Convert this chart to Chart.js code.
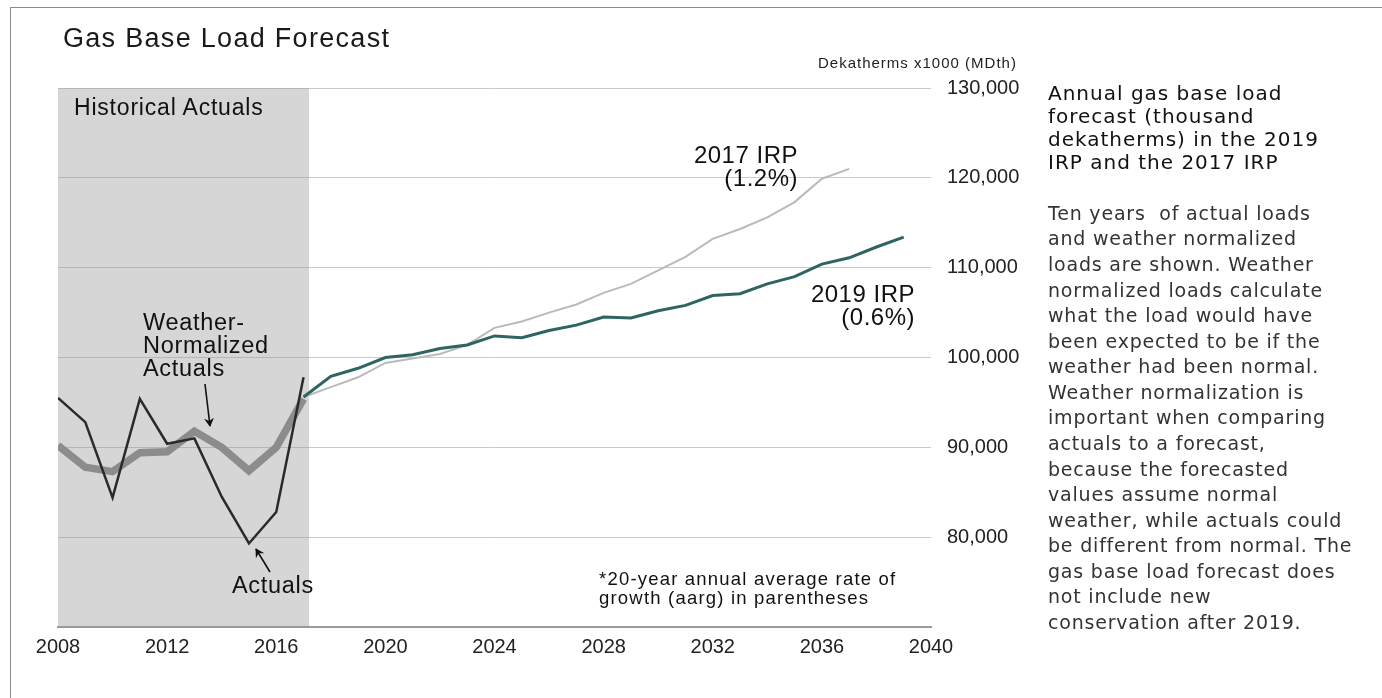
<!DOCTYPE html>
<html>
<head>
<meta charset="utf-8">
<script src="https://cdn.jsdelivr.net/npm/chart.js@4"></script>
<style>
  html, body { margin: 0; padding: 0; background: #fff; }
  body { width: 1382px; height: 698px; position: relative; overflow: hidden; font-family: "Liberation Sans", Arial, sans-serif; color: #111; }
  #frame { position: absolute; left: 10px; top: 7px; width: 1400px; height: 720px; border-left: 1px solid #8a8a8a; border-top: 1px solid #8a8a8a; }
  #wrap { position: absolute; left: 0; top: 0; width: 1040px; height: 698px; }
  .t { position: absolute; white-space: nowrap; }
  .panel { position: absolute; font-family: "DejaVu Sans", sans-serif; white-space: nowrap; }
  svg { position: absolute; left: 0; top: 0; }
</style>
</head>
<body>
<div id="frame"></div>
<div id="wrap"><canvas id="loadChart" width="1040" height="698"></canvas></div>

<div class="t" style="left:63px; top:25px; font-size:27px; line-height:27px; letter-spacing:1.3px; color:#1a1a1a;">Gas Base Load Forecast</div>
<div class="t" style="left:818px; top:54.5px; font-size:15px; line-height:15px; letter-spacing:1px; color:#222;">Dekatherms x1000 (MDth)</div>

<div class="t" style="left:74px; top:96px; font-size:23px; line-height:23px; letter-spacing:0.8px;">Historical Actuals</div>
<div class="t" style="left:143px; top:310.5px; font-size:23.5px; line-height:23px; letter-spacing:0.7px;">Weather-<br>Normalized<br>Actuals</div>
<div class="t" style="left:232px; top:573.5px; font-size:23.5px; line-height:23px; letter-spacing:0.7px;">Actuals</div>
<div class="t" style="right:584px; top:143px; font-size:24px; line-height:23px; letter-spacing:0.5px; text-align:right;">2017 IRP<br>(1.2%)</div>
<div class="t" style="right:467px; top:283px; font-size:24px; line-height:22.5px; letter-spacing:0.5px; text-align:right;">2019 IRP<br>(0.6%)</div>
<div class="t" style="left:599px; top:570px; font-size:18.5px; line-height:18.5px; letter-spacing:1.2px;">*20-year annual average rate of<br>growth (aarg) in parentheses</div>

<svg width="1382" height="698">
  <defs>
    <marker id="head" markerWidth="10" markerHeight="10" refX="8" refY="5" orient="auto" markerUnits="userSpaceOnUse">
      <path d="M0,0 L9,5 L0,10 L3,5 z" fill="#111"/>
    </marker>
  </defs>
  <line x1="205" y1="384" x2="210" y2="426" stroke="#111" stroke-width="1.6" marker-end="url(#head)"/>
  <line x1="270" y1="572" x2="256" y2="549" stroke="#111" stroke-width="1.6" marker-end="url(#head)"/>
</svg>

<div class="panel" style="left:1048px; top:82.2px; font-size:20px; line-height:23px; letter-spacing:1px; color:#111;">Annual gas base load<br>forecast (thousand<br>dekatherms) in the 2019<br>IRP and the 2017 IRP</div>
<div class="panel" style="left:1048px; top:200.9px; font-size:19px; line-height:25.56px; letter-spacing:0.8px; color:#333;">Ten years&nbsp; of actual loads<br>and weather normalized<br>loads are shown. Weather<br>normalized loads calculate<br>what the load would have<br>been expected to be if the<br>weather had been normal.<br>Weather normalization is<br>important when comparing<br>actuals to a forecast,<br>because the forecasted<br>values assume normal<br>weather, while actuals could<br>be different from normal. The<br>gas base load forecast does<br>not include new<br>conservation after 2019.</div>

<script>
// historical years and series (thousand dekatherms)
const histYears = [2008, 2009, 2010, 2011, 2012, 2013, 2014, 2015, 2016, 2017];
const actuals = [95500, 92800, 84400, 95400, 90400, 91000, 84500, 79300, 82800, 97800];
const weatherNormalized = [90200, 87800, 87300, 89400, 89500, 91800, 90000, 87400, 90000, 95400];

// forecasts
const years2019 = [2017, 2018, 2019, 2020, 2021, 2022, 2023, 2024, 2025, 2026, 2027, 2028,
                   2029, 2030, 2031, 2032, 2033, 2034, 2035, 2036, 2037, 2038, 2039];
const irp2019 = [95600, 97900, 98800, 100000, 100300, 101000, 101400, 102400, 102200, 103000, 103600, 104500,
                 104400, 105200, 105800, 106900, 107100, 108200, 109000, 110400, 111100, 112300, 113400];
const years2017 = [2017, 2018, 2019, 2020, 2021, 2022, 2023, 2024, 2025, 2026, 2027,
                   2028, 2029, 2030, 2031, 2032, 2033, 2034, 2035, 2036, 2037];
const irp2017 = [95600, 96700, 97800, 99400, 99900, 100400, 101400, 103300, 104000, 105000, 105900,
                 107200, 108200, 109700, 111200, 113200, 114300, 115600, 117300, 119900, 121000];

// axis ticks
const xTicks = [2008, 2012, 2016, 2020, 2024, 2028, 2032, 2036, 2040];
const yTicks = [80000, 90000, 100000, 110000, 120000, 130000];
const shadeStart = 2008, shadeEnd = 2017.2;

const pts = (xs, ys) => xs.map((x, i) => ({ x: x, y: ys[i] }));

const shadePlugin = {
    id: 'histShade',
    beforeDraw(chart) {
        const { ctx, chartArea, scales } = chart;
        const x0 = scales.x.getPixelForValue(shadeStart);
        const x1 = scales.x.getPixelForValue(shadeEnd);
        ctx.save();
        ctx.fillStyle = '#d6d6d6';
        ctx.fillRect(x0, chartArea.top, x1 - x0, chartArea.bottom - chartArea.top);
        ctx.restore();
    }
};

new Chart(document.getElementById('loadChart'), {
    type: 'line',
    data: {
        datasets: [
            { label: 'Actuals', data: pts(histYears, actuals), borderColor: '#2a2a2a', borderWidth: 2.5 },
            { label: 'Weather-Normalized Actuals', data: pts(histYears, weatherNormalized), borderColor: '#8c8c8c', borderWidth: 7.5, borderJoinStyle: 'miter' },
            { label: '2019 IRP', data: pts(years2019, irp2019), borderColor: '#2e6462', borderWidth: 3 },
            { label: '2017 IRP', data: pts(years2017, irp2017), borderColor: '#bababa', borderWidth: 2 }
        ]
    },
    options: {
        responsive: false,
        animation: false,
        events: [],
        layout: { padding: { left: 58, top: 88, right: 0, bottom: 0 } },
        elements: { point: { radius: 0 }, line: { tension: 0, fill: false } },
        plugins: { legend: { display: false }, tooltip: { enabled: false } },
        scales: {
            x: {
                type: 'linear',
                min: 2008,
                max: 2040,
                afterFit: (s) => { s.height = 71; },
                afterBuildTicks: (s) => { s.ticks = xTicks.map(v => ({ value: v })); },
                grid: { display: false, drawTicks: false },
                border: { display: true, color: '#9a9a9a', width: 2 },
                ticks: {
                    padding: 8,
                    color: '#222',
                    font: { family: 'Liberation Sans', size: 20 },
                    callback: (v) => String(v)
                }
            },
            y: {
                position: 'right',
                min: 70000,
                max: 130000,
                afterFit: (s) => { s.width = 109; },
                afterBuildTicks: (s) => { s.ticks = yTicks.map(v => ({ value: v })); },
                grid: { color: 'rgba(150,150,150,0.5)', lineWidth: 1, drawTicks: false },
                border: { display: false },
                ticks: {
                    padding: 16,
                    color: '#222',
                    font: { family: 'Liberation Sans', size: 20 },
                    callback: (v) => v.toLocaleString('en-US')
                }
            }
        }
    },
    plugins: [shadePlugin]
});
</script>
</body>
</html>
